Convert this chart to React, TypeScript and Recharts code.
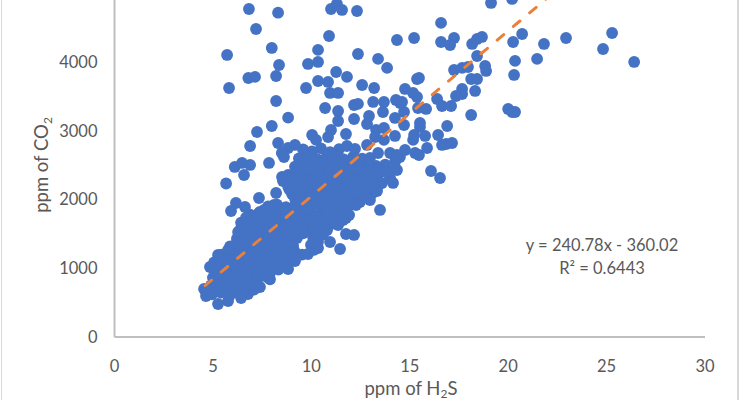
import { Scatter, ScatterChart, XAxis, YAxis } from "recharts";

const xTicks = [0, 5, 10, 15, 20, 25, 30];
const yTicks = [0, 1000, 2000, 3000, 4000];

// points standing clear of the main band, left side and top
const upperH2s = [
  6.83, 8.31, 7.19, 7.99, 5.72, 8.36, 6.8, 7.14, 8.21, 5.82,
  8.21, 8.82, 7.99, 7.24, 8.31, 6.89, 9.17, 8.82, 8.5, 8.61,
  7.85, 6.11, 6.48, 6.89, 6.58, 5.67, 11.0, 11.3, 11.56, 12.32,
  10.9, 14.35, 15.22, 10.34, 12.37, 13.39, 13.85, 9.83, 10.34, 11.26,
  11.81, 10.34, 10.85, 9.73, 12.58, 13.19, 10.95, 11.36, 14.76, 15.17,
  15.37, 15.37, 13.14, 13.69, 14.3, 14.51, 13.64, 14.71, 14.25, 10.7,
  11.36, 11.36, 12.17, 12.17, 12.37, 12.93, 12.83, 11.0, 10.85, 11.76,
  10.04, 10.24, 13.29, 13.69, 14.71, 14.25, 13.69, 13.24, 12.83, 15.22,
  15.17, 11.81, 12.22, 13.39, 14.0, 14.76, 14.35, 14.25, 15.27,
];
const upperCo2 = [
  4774, 4720, 4483, 4207, 4105, 3959, 3770, 3785, 3799, 3624,
  3435, 3192, 3071, 2984, 2824, 2780, 2795, 2751, 2678, 2620,
  2533, 2475, 2533, 2504, 2358, 2234, 4774, 4847, 4760, 4745,
  4381, 4323, 4352, 4178, 4119, 4047, 3916, 3974, 4003, 3857,
  3785, 3726, 3712, 3624, 3668, 3624, 3552, 3552, 3610, 3552,
  3493, 3755, 3421, 3421, 3450, 3406, 3275, 3275, 3188, 3333,
  3290, 3144, 3173, 3377, 3392, 3217, 3100, 3013, 2911, 2955,
  2940, 2868, 3013, 3042, 3086, 2926, 2868, 2911, 2795, 2940,
  2868, 2780, 2737, 2678, 2678, 2722, 2649, 2547, 2678,
];

// right hand side, high H2S
const rightH2s = [
  19.13, 20.2, 16.59, 16.59, 17.25, 17.05, 18.17, 18.42, 18.67, 18.42,
  20.71, 20.25, 21.82, 22.94, 25.28, 24.82, 26.4, 20.35, 21.47, 20.3,
  18.83, 18.88, 17.25, 17.66, 17.96, 18.12, 18.42, 15.47, 18.32, 17.66,
  17.66, 17.35, 16.39, 16.64, 17.1, 15.42, 15.83, 14.61, 18.12, 20.0,
  20.2, 20.35, 15.52, 15.52, 16.9, 16.44, 15.78, 15.88, 17.15, 16.85,
  16.64, 15.47, 16.08, 16.54,
];
const rightCo2 = [
  4862, 4920, 4571, 4294, 4352, 4250, 4265, 4338, 4367, 4090,
  4410, 4294, 4265, 4352, 4425, 4192, 4003, 4018, 4047, 3814,
  3945, 3872, 3886, 3916, 3930, 3755, 3755, 3770, 3581, 3610,
  3537, 3508, 3464, 3362, 3362, 3333, 3319, 3421, 3231, 3319,
  3275, 3275, 3115, 3057, 3071, 2940, 2926, 2751, 2824, 2809,
  2795, 2649, 2416, 2314,
];

// outline of the dense band
const edgeH2s = [
  7.34, 8.21, 8.51, 8.87, 6.17, 6.63, 5.92, 7.39, 8.1, 13.49,
  11.76, 11.92, 12.27, 12.98, 13.34, 14.15, 11.76, 12.17, 10.95, 11.46,
  10.34, 9.83, 8.82, 7.9, 7.39, 6.43, 5.77, 5.26, 4.65, 4.55,
  4.85, 5.26, 5.77, 6.22, 6.28, 14.0, 14.35, 14.5, 12.98, 11.36,
  10.8, 10.19, 11.61, 14.0, 13.8,
];
const edgeCo2 = [
  2023, 2096, 2329, 2154, 1950, 1892, 1834, 1820, 1921, 1849,
  1732, 1776, 1921, 1994, 2125, 2242, 1499, 1485, 1383, 1281,
  1295, 1208, 990, 932, 728, 568, 524, 480, 597, 699,
  1019, 1194, 1266, 1368, 1528, 2402, 2431, 2620, 2606, 1630,
  1557, 1441, 1703, 2310, 2400,
];

// inside of the dense band
const coreH2s = [
  9.58, 10.03, 10.49, 10.95, 11.41,
  9.37, 9.83, 10.29, 10.75, 11.2, 11.66, 12.12, 12.58,
  9.17, 9.63, 10.09, 10.54, 11.0, 11.46, 11.92, 12.37, 12.83, 13.29, 13.75,
  8.82, 9.27, 9.73, 10.19, 10.65, 11.1, 11.56, 12.02, 12.47, 12.93, 13.39,
  8.56, 9.02, 9.48, 9.93, 10.39, 10.85, 11.31, 11.76, 12.22, 12.68, 13.14, 13.59,
  9.27, 9.73, 10.19, 10.65, 11.1, 11.56, 12.02, 12.47, 12.93,
  9.17, 9.63, 10.09, 10.54, 11.0, 11.46, 11.92, 12.37,
  7.8, 8.26, 8.71, 9.17, 9.63, 10.09, 10.54, 11.0, 11.46, 11.92,
  6.89, 7.34, 7.8, 8.26, 8.71, 9.17, 9.63, 10.09, 10.54, 11.0, 11.46,
  6.43, 6.89, 7.34, 7.8, 8.26, 8.71, 9.17, 9.63, 10.09, 10.54, 11.0,
  6.38, 6.83, 7.29, 7.75, 8.21, 8.66, 9.12, 9.58, 10.03, 10.49,
  6.22, 6.68, 7.14, 7.6, 8.05, 8.51, 8.97, 9.27, 10.09,
  5.87, 6.33, 6.78, 7.24, 7.7, 8.16, 8.61, 9.07, 9.98,
  5.46, 5.92, 6.38, 6.83, 7.29, 7.75, 8.21, 8.66, 9.12, 9.53,
  5.06, 5.51, 5.97, 6.43, 6.89, 7.34, 7.8, 8.26, 8.71, 9.17,
  5.11, 5.59, 6.05, 6.5, 6.96, 7.42, 7.88, 8.33,
  5.0, 5.45, 5.9, 6.36, 6.8, 7.27, 7.73, 7.9,
  4.9, 5.36, 5.82, 6.28, 6.73, 6.99,
  4.95, 5.41, 5.87, 6.33, 6.78,
];
const coreCo2 = [
  2730, 2700, 2745, 2690, 2735,
  2600, 2625, 2590, 2610, 2635, 2580, 2620, 2595,
  2480, 2510, 2470, 2495, 2460, 2505, 2475, 2500, 2465, 2490, 2510,
  2360, 2385, 2350, 2375, 2395, 2365, 2345, 2380, 2390, 2355, 2370,
  2270, 2240, 2265, 2250, 2235, 2275, 2245, 2260, 2230, 2270, 2255, 2240,
  2150, 2125, 2160, 2130, 2145, 2120, 2155, 2135, 2115,
  2015, 2040, 2005, 2030, 2010, 2045, 2020, 2000,
  1900, 1925, 1890, 1915, 1905, 1930, 1885, 1910, 1895, 1920,
  1780, 1805, 1770, 1795, 1785, 1810, 1765, 1790, 1775, 1800, 1760,
  1665, 1690, 1655, 1680, 1670, 1695, 1650, 1675, 1660, 1685, 1645,
  1560, 1535, 1570, 1545, 1555, 1575, 1540, 1565, 1550, 1530,
  1430, 1455, 1420, 1445, 1435, 1460, 1425, 1440, 1450,
  1320, 1345, 1310, 1335, 1325, 1350, 1305, 1330, 1340,
  1200, 1225, 1195, 1215, 1205, 1230, 1190, 1220, 1210, 1200,
  1085, 1110, 1075, 1100, 1090, 1115, 1070, 1095, 1080, 1105,
  970, 995, 960, 985, 975, 1000, 955, 980,
  865, 850, 880, 845, 870, 855, 875, 840,
  750, 725, 760, 735, 745, 720,
  620, 645, 610, 635, 625,
];

// more of the band, sitting between the points above
const fillH2s = [
  5.06, 5.56, 6.07, 6.58, 7.09,
  5.16, 5.67, 6.17, 6.68, 7.19,
  5.21, 5.72, 6.22, 6.73, 7.24, 7.75,
  5.26, 5.77, 6.28, 6.78, 7.29, 7.8, 8.31,
  5.67, 6.17, 6.68, 7.19, 7.7, 8.21, 8.71, 9.22,
  6.07, 6.58, 7.09, 7.6, 8.1, 8.61, 9.12, 10.14,
  6.48, 6.99, 7.5, 8.0, 8.51, 9.02, 10.34,
  6.53, 7.04, 7.55, 8.05, 8.56, 9.07, 9.58, 10.09, 10.59,
  6.58, 7.09, 7.6, 8.1, 8.61, 9.12, 9.63, 10.14, 10.65,
  6.68, 7.19, 7.7, 8.21, 8.71, 9.22, 9.73, 10.24, 10.75, 11.26,
  7.6, 8.1, 8.61, 9.12, 9.63, 10.75, 11.26, 11.76,
  9.43, 9.93, 10.44, 10.95, 11.46, 11.97, 12.47,
  9.02, 9.53, 10.03, 10.54, 11.05, 11.56, 12.07, 12.58, 13.09,
  8.82, 9.32, 9.83, 10.34, 10.85, 11.36, 11.87, 12.37, 12.88, 13.39,
  9.02, 9.53, 10.03, 10.54, 11.05, 11.56, 12.07, 12.58, 13.09,
  9.37, 9.88, 10.39, 10.9, 11.41, 11.92, 12.43, 12.93, 13.44,
  9.6, 10.1, 10.6, 11.1, 11.6, 12.1,
];
const fillCo2 = [
  690, 670, 700, 680, 690,
  800, 815, 790, 810, 795,
  915, 905, 925, 910, 920, 900,
  1035, 1020, 1045, 1030, 1040, 1025, 1035,
  1150, 1140, 1160, 1145, 1155, 1135, 1150, 1160,
  1265, 1280, 1255, 1270, 1260, 1275, 1265, 1270,
  1380, 1395, 1370, 1385, 1375, 1390, 1385,
  1500, 1490, 1510, 1495, 1505, 1485, 1510, 1500, 1490,
  1615, 1625, 1605, 1620, 1610, 1630, 1615, 1605, 1620,
  1735, 1720, 1745, 1725, 1740, 1730, 1720, 1745, 1735, 1725,
  1850, 1840, 1860, 1845, 1855, 1850, 1840, 1860,
  1965, 1975, 1955, 1970, 1960, 1975, 1965,
  2080, 2090, 2070, 2085, 2075, 2095, 2080, 2070, 2090,
  2195, 2205, 2190, 2200, 2210, 2190, 2205, 2195, 2185, 2200,
  2310, 2320, 2305, 2315, 2300, 2320, 2310, 2305, 2315,
  2425, 2435, 2420, 2430, 2440, 2425, 2435, 2420, 2430,
  2570, 2585, 2560, 2575, 2590, 2565,
];

const trendH2s = [4.6, 22.0];
const trendCo2 = [748, 4937];

const zip = (xs: number[], ys: number[]) =>
  xs.map((h2s, i) => ({ h2s, co2: ys[i] }));

const points = [
  ...zip(coreH2s, coreCo2),
  ...zip(fillH2s, fillCo2),
  ...zip(edgeH2s, edgeCo2),
  ...zip(upperH2s, upperCo2),
  ...zip(rightH2s, rightCo2),
];
const trend = zip(trendH2s, trendCo2);

const FONT = "Lato, sans-serif";
const GREY = "#595959";

const Marker = (p: any) => <circle cx={p.cx} cy={p.cy} r={5.9} fill="#4472C4" />;

export default function App() {
  return (
    <div
      style={{
        position: "absolute",
        left: 0,
        top: 0,
        width: 739,
        height: 400,
        overflow: "hidden",
        background: "#fff",
      }}
    >
      <ScatterChart
        width={739}
        height={400}
        margin={{ top: 0, right: 34, bottom: 0, left: 0 }}
      >
        <XAxis
          type="number"
          dataKey="h2s"
          domain={[0, 30]}
          ticks={xTicks}
          height={63}
          tickLine={false}
          tickMargin={17}
          tick={{ fill: GREY, fontSize: 16.5, fontFamily: FONT }}
          axisLine={{ stroke: "#BFBFBF", strokeWidth: 2 }}
        />
        <YAxis
          type="number"
          dataKey="co2"
          domain={[0, 4905]}
          allowDataOverflow
          ticks={yTicks}
          width={114.5}
          tickLine={false}
          tickMargin={11}
          tick={{ fill: GREY, fontSize: 16.5, fontFamily: FONT }}
          axisLine={{ stroke: "#BFBFBF", strokeWidth: 2 }}
        />
        <Scatter data={points} shape={Marker} isAnimationActive={false} />
        <Scatter
          data={trend}
          shape={() => null}
          line={{
            stroke: "#E9803C",
            strokeWidth: 3,
            strokeDasharray: "8.5 12.7",
            strokeLinecap: "round",
          }}
          isAnimationActive={false}
        />
        <text x={411} y={395} textAnchor="middle" fill={GREY} fontSize={18.5} fontFamily={FONT}>
          ppm of H
          <tspan fontSize={12} dy={3}>2</tspan>
          <tspan dy={-3}>S</tspan>
        </text>
        <text
          transform="translate(48 165) rotate(-90)"
          textAnchor="middle"
          fill={GREY}
          fontSize={18.5}
          fontFamily={FONT}
        >
          ppm of CO
          <tspan fontSize={12} dy={4}>2</tspan>
        </text>
        <text x={602} y={251} textAnchor="middle" fill={GREY} fontSize={16.5} fontFamily={FONT}>
          y = 240.78x - 360.02
        </text>
        <text x={602} y={274} textAnchor="middle" fill={GREY} fontSize={16.5} fontFamily={FONT}>
          R² = 0.6443
        </text>
      </ScatterChart>
      <div style={{ position: "absolute", left: 1, top: 0, width: 1, height: 400, background: "#D9D9D9" }} />
      <div style={{ position: "absolute", left: 737, top: 0, width: 2, height: 400, background: "#D9D9D9" }} />
    </div>
  );
}
